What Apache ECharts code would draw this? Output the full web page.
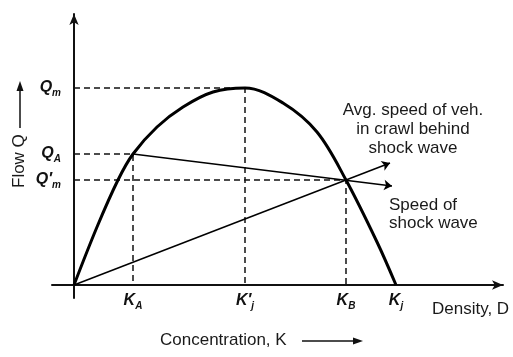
<!DOCTYPE html>
<html><head><meta charset="utf-8">
<script src="https://cdn.jsdelivr.net/npm/echarts@6/dist/echarts.min.js"></script>
<style>html,body{margin:0;padding:0;background:#fff}#c{width:513px;height:357px}</style>
</head><body><div id="c"></div>
<script>
// Flow–concentration curve (K in axis units, Q in axis units)
const curveK = [0, 23, 44, 59, 83, 109, 139, 171, 209, 243, 272, 303, 322];
const curveQ = [0, 58, 105, 131, 158, 178, 193, 197, 182, 153, 105, 43, 0];
// key densities
const KA = 59, KjPrime = 171, KB = 272, Kj = 322;
// key flows
const Qm = 197, QA = 131, QmPrime = 105;
// arrow ends
const shockEnd = [318, 99];
const avgEnd = [316, 122];
const xTickVals = [KA, KjPrime, KB, Kj];
const xTickLabels = ['{k|K}{s|A}', '{k|K′}{s|j}', '{k|K}{s|B}', '{k|K}{s|j}'];
const yTickVals = [QmPrime, QA, Qm];
const yTickLabels = ['{k|Q′}{s|m}', '{k|Q}{s|A}', '{k|Q}{s|m}'];

const FONT = 'Liberation Sans';
const richLbl = {
  k: {fontFamily: FONT, fontStyle: 'italic', fontWeight: 'bold', fontSize: 16, color: '#111'},
  s: {fontFamily: FONT, fontStyle: 'italic', fontWeight: 'bold', fontSize: 10, color: '#111', padding: [10, 0, 0, 0]}
};
const dash = {color: '#111', width: 1.5, type: [6, 4]};
function dashSeries(pts) {
  return {type: 'line', data: pts, symbol: 'none', silent: true, lineStyle: dash, z: 1};
}
const TXT = '17px "Liberation Sans"';
const chart = echarts.init(document.getElementById('c'), null, {renderer: 'canvas'});
chart.setOption({
  animation: false,
  grid: {left: 52, right: 10, top: 14, bottom: 59},
  xAxis: {
    type: 'value', min: -22, max: 429,
    axisLine: {onZero: true, lineStyle: {color: '#111', width: 2}, symbol: ['none', 'arrow'], symbolSize: [7, 11]},
    axisTick: {show: false}, splitLine: {show: false},
    axisLabel: {
      customValues: xTickVals, margin: -7, rich: richLbl,
      formatter: v => xTickLabels[xTickVals.indexOf(v)] || ''
    }
  },
  yAxis: {
    type: 'value', min: -13, max: 271,
    axisLine: {onZero: true, lineStyle: {color: '#111', width: 2}, symbol: ['none', 'arrow'], symbolSize: [7, 11]},
    axisTick: {show: false}, splitLine: {show: false},
    axisLabel: {
      customValues: yTickVals, margin: -9, rich: richLbl,
      formatter: v => yTickLabels[yTickVals.indexOf(v)] || ''
    }
  },
  series: [
    dashSeries([[0, Qm], [KjPrime, Qm], [KjPrime, 0]]),
    dashSeries([[0, QA], [KA, QA], [KA, 0]]),
    dashSeries([[0, QmPrime], [KB, QmPrime], [KB, 0]]),
    {
      type: 'line', data: curveK.map((k, i) => [k, curveQ[i]]), smooth: 0.35, symbol: 'none',
      lineStyle: {color: '#000', width: 3}, z: 3
    },
    {
      type: 'lines', coordinateSystem: 'cartesian2d', symbol: ['none', 'arrow'], symbolSize: 8,
      lineStyle: {color: '#000', width: 1.5, opacity: 1}, z: 2,
      data: [
        {coords: [[KA, QA], shockEnd]},
        {coords: [[0, 0], avgEnd]}
      ]
    }
  ],
  graphic: [
    {type: 'text', x: 432, y: 309, style: {text: 'Density, D', font: TXT, fill: '#1a1a1a', textVerticalAlign: 'middle'}},
    {type: 'text', x: 160, y: 340, style: {text: 'Concentration, K', font: TXT, fill: '#1a1a1a', textVerticalAlign: 'middle'}},
    {type: 'line', shape: {x1: 302, y1: 341, x2: 356, y2: 341}, style: {stroke: '#111', lineWidth: 1.5}},
    {type: 'polygon', shape: {points: [[363, 341], [353, 337.5], [353, 344.5]]}, style: {fill: '#111'}},
    {type: 'text', x: 11, y: 188, rotation: Math.PI / 2, style: {text: 'Flow Q', font: TXT, fill: '#1a1a1a', textVerticalAlign: 'top'}},
    {type: 'line', shape: {x1: 20, y1: 128, x2: 20, y2: 89}, style: {stroke: '#111', lineWidth: 1.5}},
    {type: 'polygon', shape: {points: [[20, 81], [16.5, 91], [23.5, 91]]}, style: {fill: '#111'}},
    {type: 'text', x: 413, y: 129, style: {text: 'Avg. speed of veh.\nin crawl behind\nshock wave', font: TXT, fill: '#1a1a1a', textAlign: 'center', textVerticalAlign: 'middle', lineHeight: 19}},
    {type: 'text', x: 389, y: 214, style: {text: 'Speed of\nshock wave', font: TXT, fill: '#1a1a1a', textVerticalAlign: 'middle', lineHeight: 18}}
  ]
});
</script></body></html>
